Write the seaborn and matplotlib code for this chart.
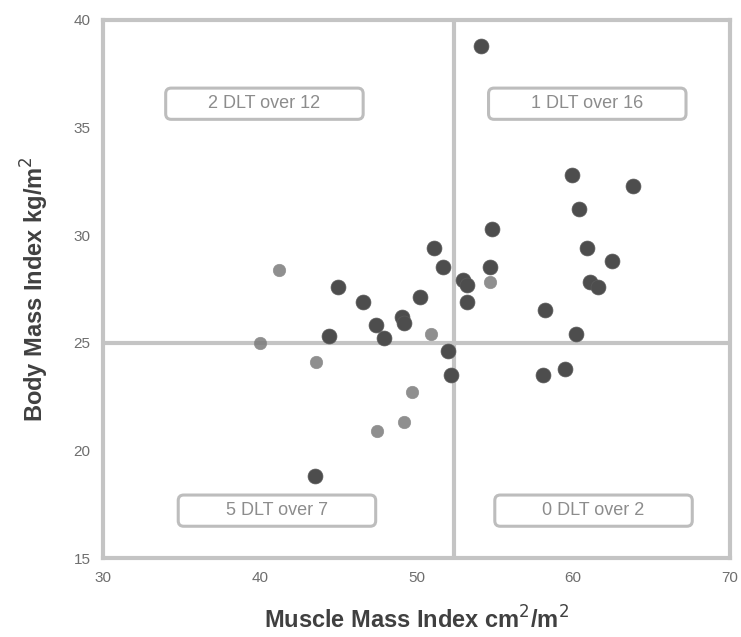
import matplotlib
matplotlib.use("Agg")
import matplotlib.pyplot as plt
from matplotlib.patches import FancyBboxPatch
import seaborn as sns
import pandas as pd

# Muscle mass index (cm²/m²) and body mass index (kg/m²) per patient
mmi_main = [54.1, 59.9, 63.8, 60.4, 54.8, 51.1, 60.9, 62.5, 51.7, 53.0,
            53.2, 54.7, 61.1, 61.6, 45.0, 53.2, 46.6, 50.2, 49.1, 49.2,
            47.4, 58.2, 44.4, 47.9, 52.0, 60.2, 52.2, 58.1, 59.5, 43.5]
bmi_main = [38.8, 32.8, 32.3, 31.2, 30.3, 29.4, 29.4, 28.8, 28.5, 27.9,
            27.7, 28.5, 27.8, 27.6, 27.6, 26.9, 26.9, 27.1, 26.2, 25.9,
            25.8, 26.5, 25.3, 25.2, 24.6, 25.4, 23.5, 23.5, 23.8, 18.8]

mmi_light = [41.2, 54.7, 50.9, 40.0, 43.6, 49.7, 49.2, 47.5]
bmi_light = [28.4, 27.8, 25.4, 25.0, 24.1, 22.7, 21.3, 20.9]

# Quadrant cut-offs
mmi_cut = 52.4
bmi_cut = 25.0

quadrant_labels = ["2 DLT over 12", "1 DLT over 16", "5 DLT over 7", "0 DLT over 2"]
label_x = [40.3, 60.9, 41.1, 61.3]
label_y = [36.1, 36.1, 17.2, 17.2]

x_ticks = [30, 40, 50, 60, 70]
y_ticks = [15, 20, 25, 30, 35, 40]

sns.set_style("white")
plt.rcParams["font.family"] = ["Liberation Sans", "DejaVu Sans"]

fig = plt.figure(figsize=(7.41, 6.37), dpi=100)
ax = fig.add_axes([0.139, 0.124, 0.846, 0.845])

frame_col = "#c4c4c4"
ax.axvline(mmi_cut, color=frame_col, lw=3, zorder=1)
ax.axhline(bmi_cut, color=frame_col, lw=3, zorder=1)

df_main = pd.DataFrame({"mmi": mmi_main, "bmi": bmi_main})
df_light = pd.DataFrame({"mmi": mmi_light, "bmi": bmi_light})
sns.scatterplot(data=df_main, x="mmi", y="bmi", ax=ax, s=115,
                color="#4d4d4d", edgecolor="#5a5a5a", linewidth=0.5, zorder=3)
sns.scatterplot(data=df_light, x="mmi", y="bmi", ax=ax, s=80,
                color="#7c7c7c", edgecolor="#8a8a8a", linewidth=0.5,
                alpha=0.85, zorder=3)

# Quadrant annotation boxes
box_w, box_h = 12.6, 1.45
for txt, bx, by in zip(quadrant_labels, label_x, label_y):
    patch = FancyBboxPatch((bx - box_w / 2, by - box_h / 2), box_w, box_h,
                           boxstyle="round,pad=0,rounding_size=0.35",
                           mutation_aspect=1 / 1.37,
                           facecolor="white", edgecolor="#bdbdbd",
                           lw=2.2, zorder=4)
    ax.add_patch(patch)
    ax.text(bx, by, txt, ha="center", va="center", fontsize=13,
            color="#8c8c8c", zorder=5)

ax.set_xlim(30, 70)
ax.set_ylim(15, 40)
ax.set_xticks(x_ticks)
ax.set_yticks(y_ticks)
ax.tick_params(axis="both", length=0, labelsize=11, colors="#6e6e6e", pad=9)
for sp in ax.spines.values():
    sp.set_color(frame_col)
    sp.set_linewidth(3)

ax.set_xlabel("Muscle Mass Index cm$^2$/m$^2$", fontsize=17, fontweight="bold",
              color="#404040", labelpad=16)
ax.set_ylabel("Body Mass Index kg/m$^2$", fontsize=17, fontweight="bold",
              color="#404040", labelpad=16)

fig.savefig("out.png", dpi=100)
